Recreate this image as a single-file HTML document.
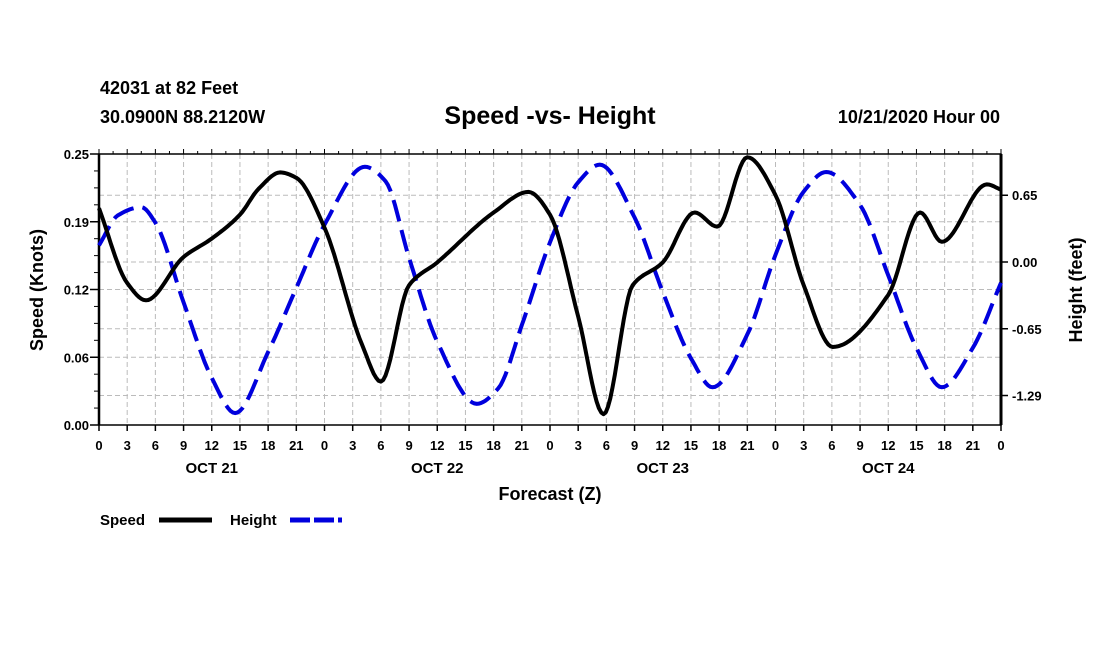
<!DOCTYPE html>
<html><head><meta charset="utf-8"><style>
html,body{margin:0;padding:0;background:#fff;}
svg{display:block;font-family:"Liberation Sans",sans-serif;font-weight:bold;}
</style></head><body>
<svg id="chart" width="1100" height="650" viewBox="0 0 1100 650" xmlns="http://www.w3.org/2000/svg">
<text x="100" y="94" font-size="18">42031 at 82 Feet</text>
<text x="100" y="123" font-size="18">30.0900N 88.2120W</text>
<text x="550" y="124" font-size="25" text-anchor="middle">Speed -vs- Height</text>
<text x="1000" y="123" font-size="18" text-anchor="end">10/21/2020 Hour 00</text>
<g id="grid"></g><g id="axes"></g><g id="series"></g>
<text transform="translate(43,290) rotate(-90)" font-size="18" text-anchor="middle">Speed (Knots)</text>
<text transform="translate(1082,290) rotate(-90)" font-size="18" text-anchor="middle">Height (feet)</text>
<text x="550" y="500" font-size="18" text-anchor="middle">Forecast (Z)</text>
<g><text x="100" y="525" font-size="15">Speed</text><line x1="159" y1="520" x2="212" y2="520" stroke="#000" stroke-width="5"/></g>
<g><text x="230" y="525" font-size="15">Height</text><line x1="290" y1="520" x2="342" y2="520" stroke="#0000dd" stroke-width="5" stroke-dasharray="20,4"/></g>
</svg>
<script>
const speedHours=[0,3,5,9,12,15,17,19.3,21,24,28,30,33,36,42,45.7,48,51,53.7,56.8,60,63.4,65.8,69,72,75,78.1,84,87.4,89.7,94.5,96];
const speedValues=[0.200,0.131,0.115,0.155,0.172,0.194,0.218,0.233,0.228,0.182,0.074,0.040,0.129,0.150,0.196,0.215,0.194,0.100,0.010,0.129,0.150,0.196,0.183,0.247,0.212,0.129,0.072,0.120,0.196,0.169,0.222,0.217];
const heightHours=[0,2,4.5,6,9,12,14.5,18,21,24,28.3,30.5,33,36,40.2,42.5,45,48,51,53.3,57,60,63,65.3,69,72,75,77.4,81,84,87,89.7,93,96];
const heightValues=[0.16,0.45,0.53,0.38,-0.39,-1.12,-1.46,-0.87,-0.25,0.36,0.92,0.78,0.04,-0.77,-1.37,-1.22,-0.61,0.19,0.77,0.94,0.43,-0.29,-0.93,-1.21,-0.70,0.07,0.68,0.87,0.55,-0.13,-0.83,-1.21,-0.83,-0.20];
const leftTicks=[0,0.0625,0.125,0.1875,0.25];
const leftTickLabels=["0.00","0.06","0.12","0.19","0.25"];
const rightTicks=[0.645,0,-0.645,-1.29];
const rightTickLabels=["0.65","0.00","-0.65","-1.29"];
const dayLabels=["OCT 21","OCT 22","OCT 23","OCT 24"];
const X0=99,X1=1001,YT=154,YB=425;
const xs=h=>X0+h/96*(X1-X0);
const yL=v=>YB-v/0.25*(YB-YT);
const yR=f=>262-f*103.5;
const NS="http://www.w3.org/2000/svg";
function mk(parent,tag,attrs){const e=document.createElementNS(NS,tag);for(const k in attrs)e.setAttribute(k,attrs[k]);parent.appendChild(e);return e;}
const grid=document.getElementById('grid'),axes=document.getElementById('axes'),series=document.getElementById('series');
for(let h=3;h<96;h+=3){const l=mk(grid,'line',{x1:xs(h),x2:xs(h),y1:YT,y2:YB,stroke:'#bbb','stroke-dasharray':'5,3','stroke-width':1});

}
[...leftTicks.slice(1,4).map(yL),...rightTicks.map(yR)].forEach(y=>{const l=mk(grid,'line',{x1:X0,x2:X1,y1:y,y2:y,stroke:'#bbb','stroke-dasharray':'5,3','stroke-width':1});

});
mk(axes,'rect',{x:X0,y:YT,width:X1-X0,height:YB-YT,fill:'none',stroke:'#000','stroke-width':1.5});
mk(axes,'line',{x1:X0,x2:X0,y1:YT,y2:YB,stroke:'#000','stroke-width':2.5});
mk(axes,'line',{x1:X1,x2:X1,y1:YT,y2:YB,stroke:'#000','stroke-width':3});
for(let h=0;h<=96;h+=3){const x=xs(h);mk(axes,'line',{x1:x,x2:x,y1:YB,y2:YB+6,stroke:'#000','stroke-width':1.5});mk(axes,'line',{x1:x,x2:x,y1:YT,y2:YT-5,stroke:'#000','stroke-width':1});
const t=mk(axes,'text',{x:x,y:450,'font-size':13,'text-anchor':'middle'});t.textContent=String(h%24);

}
for(let h=1.5;h<96;h+=3){mk(axes,'line',{x1:xs(h),x2:xs(h),y1:YT,y2:YT-3,stroke:'#000','stroke-width':1});}
dayLabels.forEach((d,i)=>{const t=mk(axes,'text',{x:xs(i*24+12),y:473,'font-size':15,'text-anchor':'middle'});t.textContent=d;

});
for(let v=0;v<=0.25001;v+=0.25/16){mk(axes,'line',{x1:X0-5,x2:X0,y1:yL(v),y2:yL(v),stroke:'#000','stroke-width':1});}
leftTicks.forEach((v,i)=>{mk(axes,'line',{x1:X0-9,x2:X0,y1:yL(v),y2:yL(v),stroke:'#000','stroke-width':1.5});
const t=mk(axes,'text',{x:X0-10,y:yL(v)+5,'font-size':13,'text-anchor':'end'});t.textContent=leftTickLabels[i];

});
rightTicks.forEach((f,i)=>{mk(axes,'line',{x1:X1,x2:X1+7,y1:yR(f),y2:yR(f),stroke:'#000','stroke-width':1.5});
const t=mk(axes,'text',{x:1012,y:yR(f)+5,'font-size':13});t.textContent=rightTickLabels[i];

});
function monotone(xa,ya,xf,yf){const n=xa.length,d=[],m=[];
for(let i=0;i<n-1;i++)d.push((ya[i+1]-ya[i])/(xa[i+1]-xa[i]));
m[0]=d[0];m[n-1]=d[n-2];
for(let i=1;i<n-1;i++){if(d[i-1]*d[i]<=0)m[i]=0;else{const w1=2*(xa[i+1]-xa[i])+(xa[i]-xa[i-1]),w2=(xa[i+1]-xa[i])+2*(xa[i]-xa[i-1]);m[i]=(w1+w2)/(w1/d[i-1]+w2/d[i]);}}
const pts=[];
for(let i=0;i<n-1;i++){const h=xa[i+1]-xa[i];const steps=Math.max(4,Math.ceil(h*4));
for(let s=(i?1:0);s<=steps;s++){const t=s/steps,t2=t*t,t3=t2*t;
const y=(2*t3-3*t2+1)*ya[i]+(t3-2*t2+t)*h*m[i]+(-2*t3+3*t2)*ya[i+1]+(t3-t2)*h*m[i+1];
pts.push([xf(xa[i]+t*h),yf(y)]);}}
return 'M'+pts.map(p=>p[0].toFixed(1)+','+p[1].toFixed(1)).join('L');}
const hp=mk(series,'path',{d:monotone(heightHours,heightValues,xs,yR),fill:'none',stroke:'#0000dd','stroke-width':4,'stroke-dasharray':'22,9'});


const sp=mk(series,'path',{d:monotone(speedHours,speedValues,xs,yL),fill:'none',stroke:'#000','stroke-width':4,'stroke-linejoin':'round'});


</script>
</body></html>
